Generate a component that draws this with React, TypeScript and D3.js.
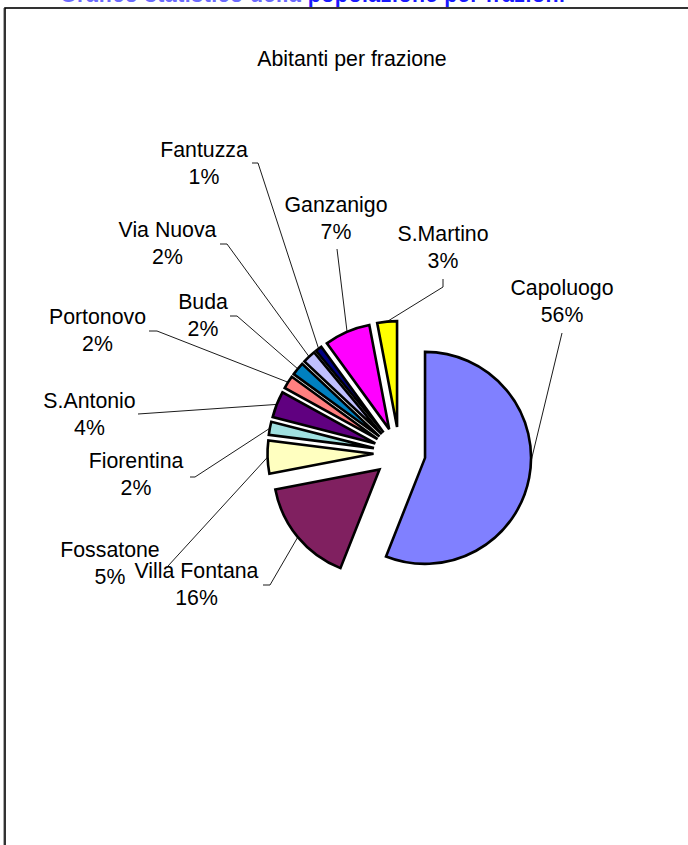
import React from 'react';
import * as d3 from 'd3';

// ---- data ----
const categories = ['Capoluogo', 'Villa Fontana', 'Fossatone', 'Fiorentina', 'S.Antonio', 'Portonovo', 'Buda', 'Via Nuova', 'Fantuzza', 'Ganzanigo', 'S.Martino'];
const shares = [56, 16, 5, 2, 4, 2, 2, 2, 1, 7, 3];
const sliceColors = ['#8080ff', '#802060', '#ffffc0', '#a0e0e0', '#600080', '#ff8080', '#0080c0', '#c0c0ff', '#000080', '#ff00ff', '#ffff00'];
const chartTitle = 'Abitanti per frazione';
const pageHeadingParts = ['Grafico statistico della ', 'popolazione per frazioni'];

// ---- layout (label placement: centre x, first baseline, leader start, leader elbow, anchor fraction) ----
const labelLayout: [number, number, number, number, number, number, number][] = [
  [562, 295, 562, 333, 562, 333, 0.456],
  [196.5, 578, 263, 585, 270, 585, 0.5],
  [110, 557, 168, 566, 168, 566, 0.5],
  [136, 468, 190, 477, 195, 477, 0.5],
  [89.5, 408, 138, 414, 138, 414, 0.5],
  [97.5, 324, 149, 331, 157, 331, 0.5],
  [203, 309, 230, 316, 237, 316, 0.5],
  [167.5, 237, 220, 244, 227, 244, 0.5],
  [204, 157, 252, 163, 258, 163, 0.5],
  [336, 212, 337, 249, 337, 249, 0.5],
  [443, 241, 443, 279, 443, 287, 0.5],
];

const W = 688;
const H = 845;
const CX = 399.5;
const CY = 453;
const R = 106;
const EXPLODE = 26;
const FONT = '"Liberation Sans", Arial, Helvetica, sans-serif';
const FS = 21.3;
const LINE = 26.5;

export default function App() {
  const pie = d3.pie<number>().sort(null).value((d) => d).startAngle(0).endAngle(2 * Math.PI);
  const arcs = pie(shares);
  const arcGen = d3.arc<d3.PieArcDatum<number>>().innerRadius(0).outerRadius(R);

  return (
    <svg width={W} height={H} style={{ position: 'absolute', left: 0, top: 0, background: '#fff' }}>
      <rect x={0} y={0} width={W} height={H} fill="#fff" />
      <text x={60} y={1.5} fontFamily={FONT} fontWeight="bold" fontSize={FS} textLength={505} lengthAdjust="spacing">
        <tspan fill="#6b6bff">{pageHeadingParts[0]}</tspan>
        <tspan fill="#1a1aff">{pageHeadingParts[1]}</tspan>
      </text>
      <line x1={3.5} y1={8} x2={3.5} y2={H} stroke="#aaa" strokeWidth={1} />
      <rect x={5} y={8} width={W + 20} height={H + 20} fill="none" stroke="#000" strokeWidth={1.6} />
      <text x={352} y={66} textAnchor="middle" fontFamily={FONT} fontSize={FS} fill="#000">
        {chartTitle}
      </text>
      <g>
        {arcs.map((a, i) => {
          const mid = (a.startAngle + a.endAngle) / 2;
          const ox = CX + EXPLODE * Math.sin(mid);
          const oy = CY - EXPLODE * Math.cos(mid);
          return (
            <path
              key={categories[i]}
              d={arcGen(a) || ''}
              transform={`translate(${ox},${oy})`}
              fill={sliceColors[i]}
              stroke="#000"
              strokeWidth={2.6}
              strokeLinejoin="miter"
            />
          );
        })}
      </g>
      <g>
        {arcs.map((a, i) => {
          const [lx, ly, sx, sy, ex, ey, frac] = labelLayout[i];
          const mid = (a.startAngle + a.endAngle) / 2;
          const ox = CX + EXPLODE * Math.sin(mid);
          const oy = CY - EXPLODE * Math.cos(mid);
          const ang = a.startAngle + frac * (a.endAngle - a.startAngle);
          const tx = ox + R * Math.sin(ang);
          const ty = oy - R * Math.cos(ang);
          const pts: [number, number][] = [[sx, sy], [ex, ey], [tx, ty]];
          return (
            <g key={categories[i]}>
              <path d={d3.line()(pts) || ''} fill="none" stroke="#000" strokeWidth={0.9} />
              <text x={lx} y={ly} textAnchor="middle" fontFamily={FONT} fontSize={FS} fill="#000">
                {categories[i]}
              </text>
              <text x={lx} y={ly + LINE} textAnchor="middle" fontFamily={FONT} fontSize={FS} fill="#000">
                {`${shares[i]}%`}
              </text>
            </g>
          );
        })}
      </g>
    </svg>
  );
}
